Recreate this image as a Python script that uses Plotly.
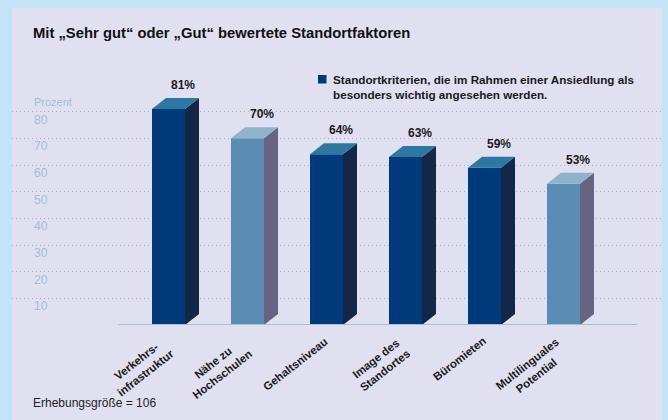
import plotly.graph_objects as go

# ---- data ----
categories = ["Verkehrs-<br>infrastruktur", "Nähe zu<br>Hochschulen", "Gehaltsniveau",
              "Image des<br>Standortes", "Büromieten", "Multilinguales<br>Potential"]
values = [81, 70, 64, 63, 59, 53]
value_labels = ["81%", "70%", "64%", "63%", "59%", "53%"]
y_ticks = [10, 20, 30, 40, 50, 60, 70, 80]
title_text = "Mit „Sehr gut“ oder „Gut“ bewertete Standortfaktoren"
legend_text = "Standortkriterien, die im Rahmen einer Ansiedlung als<br>besonders wichtig angesehen werden."
footnote = "Erhebungsgröße = 106"

# ---- style ----
W, H = 668, 420
ML, MR, MT, MB = 12, 6, 85, 95
PW, PH = W - ML - MR, H - MT - MB
YMAX = 90
PX_PER_X = 79.0
XMIN = -(168.5 - ML) / PX_PER_X
XMAX = XMIN + PW / PX_PER_X
PX_PER_Y = PH / YMAX
HW = 16.5 / PX_PER_X
DX = 14 / PX_PER_X
DY = 11 / PX_PER_Y
shades = ["dark", "light", "dark", "dark", "dark", "light"]
palette = {
    "dark": {"front": "#003a7a", "side": "#132748", "top": "#2e77a1"},
    "light": {"front": "#5a8cb4", "side": "#666480", "top": "#90b3cb"},
}
FONT = "Liberation Sans, Arial, sans-serif"


def px_x(px):
    return (px - ML) / PW


def px_y(py):
    return (H - MB - py) / PH


fig = go.Figure()

for i, (v, sh) in enumerate(zip(values, shades)):
    c = palette[sh]
    x0, x1 = i - HW, i + HW
    # front
    fig.add_trace(go.Scatter(x=[x0, x1, x1, x0, x0], y=[0, 0, v, v, 0], fill="toself",
                             fillcolor=c["front"], mode="lines", line=dict(width=0),
                             hoverinfo="skip", showlegend=False))
    # side
    fig.add_trace(go.Scatter(x=[x1, x1 + DX, x1 + DX, x1, x1], y=[0, DY, v + DY, v, 0],
                             fill="toself", fillcolor=c["side"], mode="lines",
                             line=dict(width=0), hoverinfo="skip", showlegend=False))
    # top
    fig.add_trace(go.Scatter(x=[x0, x1, x1 + DX, x0 + DX, x0], y=[v, v, v + DY, v + DY, v],
                             fill="toself", fillcolor=c["top"], mode="lines",
                             line=dict(width=0), hoverinfo="skip", showlegend=False))

annotations = []
# value labels
for i, (v, lab) in enumerate(zip(values, value_labels)):
    annotations.append(dict(x=i + DX, y=v + DY, xref="x", yref="y", text="<b>%s</b>" % lab,
                            showarrow=False, yanchor="middle", yshift=13,
                            font=dict(family=FONT, size=12, color="#1a1a1a")))
# category labels
for i, cat in enumerate(categories):
    two_lines = "<br>" in cat
    annotations.append(dict(x=i, y=0, xref="x", yref="y", text="<b>%s</b>" % cat,
                            showarrow=False, textangle=-38, xanchor="right", yanchor="top",
                            xshift=10 if two_lines else 6, yshift=-8 if two_lines else -7,
                            align="center",
                            font=dict(family=FONT, size=11.4, color="#1a1a1a")))
# y tick labels
for t in y_ticks:
    annotations.append(dict(x=px_x(32), y=t, xref="paper", yref="y", text=str(t),
                            showarrow=False, xanchor="left", yanchor="top", yshift=1,
                            font=dict(family=FONT, size=12, color="#a2bed6")))
annotations.append(dict(x=px_x(32), y=px_y(102), xref="paper", yref="paper", text="Prozent",
                        showarrow=False, xanchor="left", yanchor="middle",
                        font=dict(family=FONT, size=11, color="#a2bed6")))
# title
annotations.append(dict(x=px_x(31), y=px_y(33), xref="paper", yref="paper",
                        text="<b>%s</b>" % title_text, showarrow=False, xanchor="left",
                        yanchor="middle", font=dict(family=FONT, size=14.8, color="#111111")))
# legend
annotations.append(dict(x=px_x(331), y=px_y(87), xref="paper", yref="paper",
                        text="<b>%s</b>" % legend_text, showarrow=False, xanchor="left",
                        yanchor="middle", align="left",
                        font=dict(family=FONT, size=11.7, color="#1a1a1a")))
# footnote
annotations.append(dict(x=px_x(31), y=px_y(403), xref="paper", yref="paper", text=footnote,
                        showarrow=False, xanchor="left", yanchor="middle",
                        font=dict(family=FONT, size=12, color="#222222")))

shapes = [
    # panel
    dict(type="rect", xref="paper", yref="paper", x0=px_x(12), x1=px_x(662),
         y0=px_y(430), y1=px_y(8), fillcolor="#e1e0f0", line=dict(width=0), layer="below"),
    # legend square
    dict(type="rect", xref="paper", yref="paper", x0=px_x(318), x1=px_x(326.5),
         y0=px_y(83.5), y1=px_y(75), fillcolor="#003a7a", line=dict(width=0)),
    # baseline
    dict(type="line", xref="x", yref="y", x0=-0.64, x1=5.93, y0=0, y1=0,
         line=dict(color="#a4c0d8", width=2), layer="above"),
]

fig.update_layout(
    width=W, height=H, margin=dict(l=ML, r=MR, t=MT, b=MB),
    paper_bgcolor="#c2e4f6", plot_bgcolor="rgba(0,0,0,0)",
    showlegend=False, annotations=annotations, shapes=shapes,
    xaxis=dict(range=[XMIN, XMAX], showgrid=False, zeroline=False, showticklabels=False,
               showline=False, fixedrange=True),
    yaxis=dict(range=[0, YMAX], tickvals=y_ticks, showticklabels=False, showgrid=True,
               gridcolor="#a3b3c6", griddash="1px,3px", gridwidth=1, zeroline=False,
               showline=False, fixedrange=True),
)

fig.write_html("out.html", config={"displayModeBar": False})
